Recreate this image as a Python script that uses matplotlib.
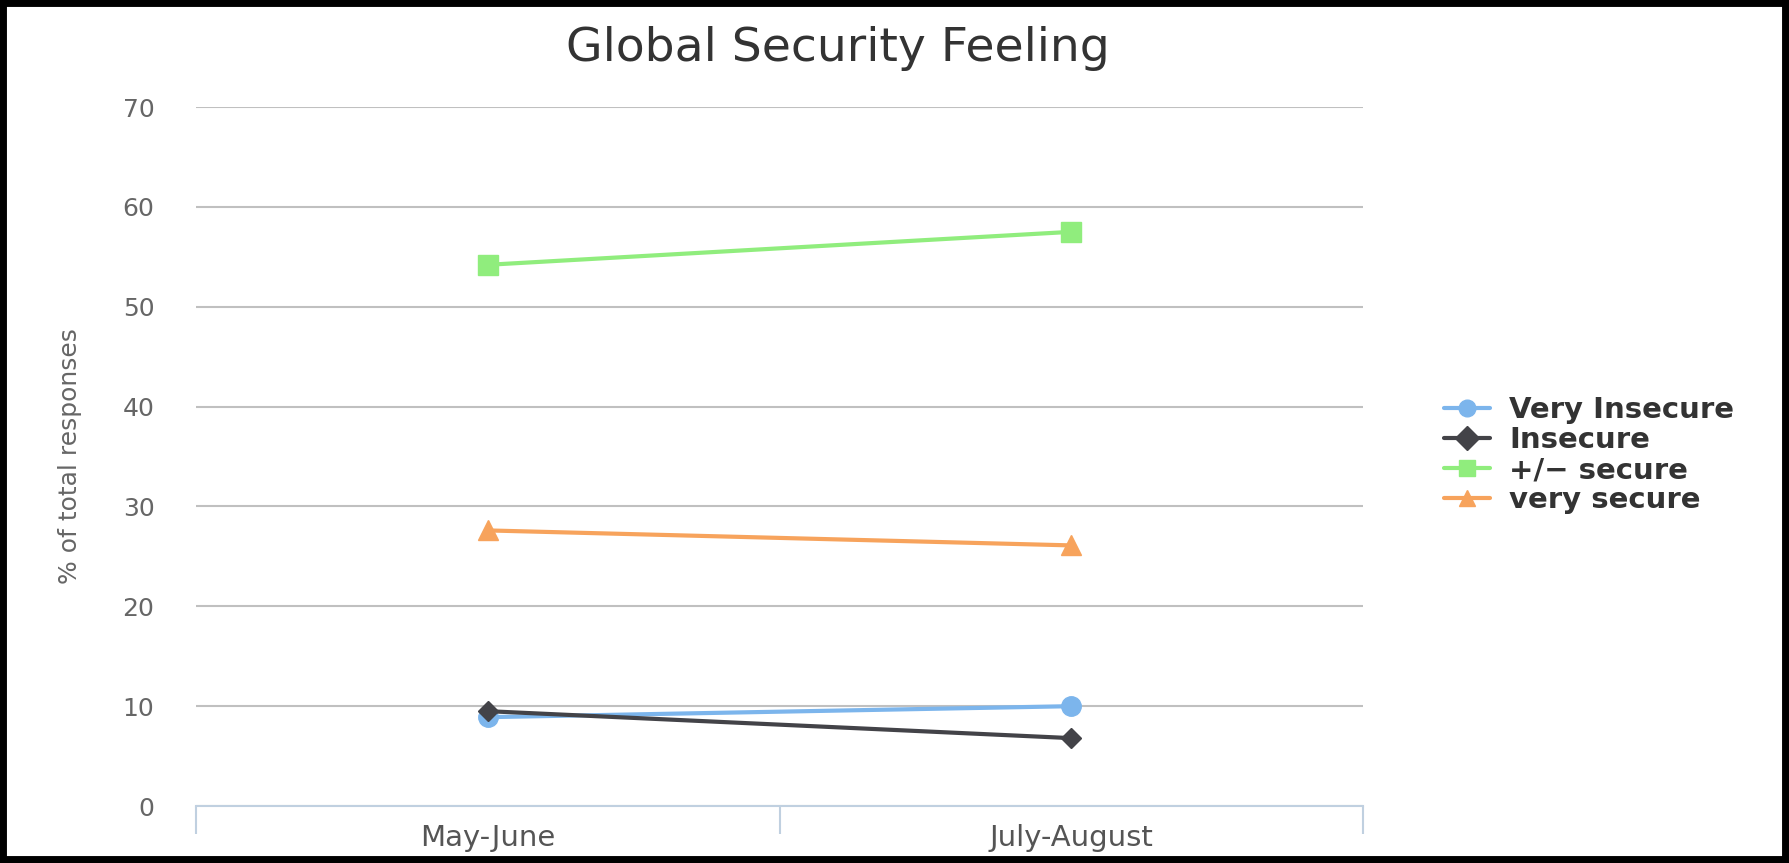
import matplotlib
matplotlib.use("Agg")
import matplotlib.pyplot as plt
from matplotlib.patches import Rectangle

periods = ["May-June", "July-August"]
very_insecure = [8.9, 10.0]
insecure = [9.5, 6.8]
more_or_less_secure = [54.2, 57.5]
very_secure = [27.6, 26.1]

series = [
    ("Very Insecure", very_insecure, "#7cb5ec", "o", 14),
    ("Insecure", insecure, "#434348", "D", 10.5),
    ("+/\u2212 secure", more_or_less_secure, "#90ed7d", "s", 14.5),
    ("very secure", very_secure, "#f7a35c", "^", 14),
]

fig = plt.figure(figsize=(17.89, 8.63), dpi=100)
ax = fig.add_axes([0.1096, 0.066, 0.6523, 0.810])

x = list(range(len(periods)))
for name, vals, color, marker, ms in series:
    ax.plot(x, vals, color=color, lw=3, marker=marker, ms=ms,
            label=name, zorder=3, solid_capstyle="round")

ax.set_xlim(-0.5, len(periods) - 0.5)
ax.set_ylim(0, 70)
ax.set_yticks(range(0, 71, 10))
ax.grid(axis="y", color="#c0c0c0", lw=1.5)
ax.set_axisbelow(True)

for side in ("top", "right", "left"):
    ax.spines[side].set_visible(False)
ax.spines["bottom"].set_color("#c0d0e0")
ax.spines["bottom"].set_linewidth(1.5)
ax.spines["bottom"].set_zorder(1)

ax.set_xticks(x)
ax.set_xticklabels(periods, fontsize=21, color="#555555")
ax.set_xticks([-0.5, 0.5, 1.5], minor=True)
ax.tick_params(axis="x", which="major", length=0, pad=13)
ax.tick_params(axis="x", which="minor", length=20, width=1.5, color="#c0d0e0")
ax.tick_params(axis="y", length=0, pad=30, labelsize=18, labelcolor="#666666")

ax.set_ylabel("% of total responses", fontsize=18, color="#666666")
ax.yaxis.set_label_coords(-0.098, 0.5)

fig.text(0.4685, 0.944, "Global Security Feeling", fontsize=34,
         color="#333333", ha="center", va="center")

leg = ax.legend(loc="center left", bbox_to_anchor=(1.059, 0.502), frameon=False,
                prop={"weight": "bold", "size": 21}, handlelength=1.6,
                labelspacing=0.07, handletextpad=0.65, borderaxespad=0)
for t in leg.get_texts():
    t.set_color("#333333")
for h in leg.get_lines():
    h.set_markersize(12)

# black frame around the whole figure
fig.patches.append(Rectangle((0, 0), 1, 1, transform=fig.transFigure,
                             fill=False, edgecolor="black", linewidth=10,
                             zorder=10))

fig.savefig("out.png", dpi=100)
